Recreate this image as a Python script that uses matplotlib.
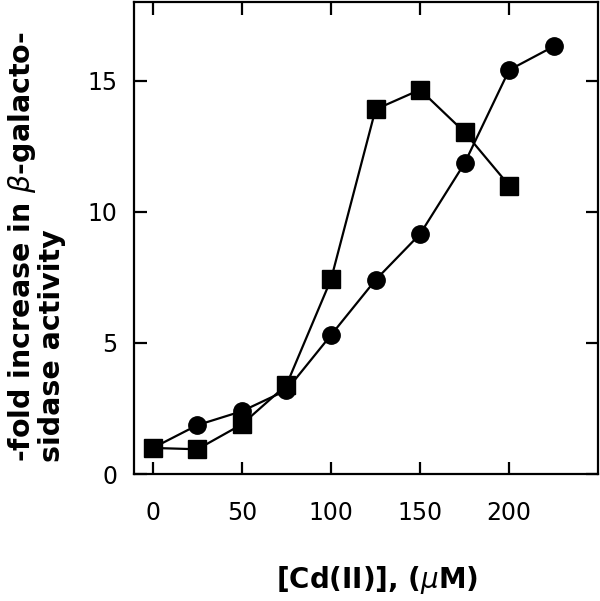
import matplotlib
matplotlib.use("Agg")
import matplotlib.pyplot as plt

# -----------------------------
# DATA
# -----------------------------
cd_circles = [0, 25, 50, 75, 100, 125, 150, 175, 200, 225]
fold_circles = [1.0, 1.87, 2.4, 3.2, 5.3, 7.4, 9.15, 11.85, 15.4, 16.3]

cd_squares = [0, 25, 50, 75, 100, 125, 150, 175, 200]
fold_squares = [1.0, 0.95, 1.9, 3.4, 7.42, 13.9, 14.65, 13.03, 11.0]

x_ticks = [0, 50, 100, 150, 200]
y_ticks = [0, 5, 10, 15]

plt.rcParams["font.family"] = ["DejaVu Sans"]
plt.rcParams["mathtext.fontset"] = "dejavusans"

# -----------------------------
# FIGURE
# -----------------------------
fig = plt.figure(figsize=(6, 6.01), dpi=100)
ax = fig.add_axes([0.223, 0.211, 0.774, 0.786])

ax.plot(cd_circles, fold_circles, color="black", lw=1.6,
        marker="o", markersize=12.5, markerfacecolor="black", markeredgecolor="black")
ax.plot(cd_squares, fold_squares, color="black", lw=1.6,
        marker="s", markersize=13, markerfacecolor="black", markeredgecolor="black")

ax.set_xlim(-10.7, 250)
ax.set_ylim(0, 18)
ax.set_xticks(x_ticks)
ax.set_yticks(y_ticks)

for s in ax.spines.values():
    s.set_linewidth(1.6)

ax.tick_params(direction="in", length=9, width=1.6, top=True, right=True,
               labelsize=17)
ax.tick_params(axis="x", pad=19)
ax.tick_params(axis="y", pad=12)

# axis labels placed by hand to match the reference layout
fig.text(0.628, 0.035, r"[Cd(II)], ($\mu$M)", ha="center", va="center",
         fontsize=20, fontweight="bold")

fig.text(0.036, 0.231, r"-fold increase in $\beta$-galacto-", rotation=90,
         ha="center", va="bottom", fontsize=20.5, fontweight="bold")
fig.text(0.086, 0.231, "sidase activity", rotation=90,
         ha="center", va="bottom", fontsize=20.5, fontweight="bold")

fig.savefig("out.png", dpi=100)
